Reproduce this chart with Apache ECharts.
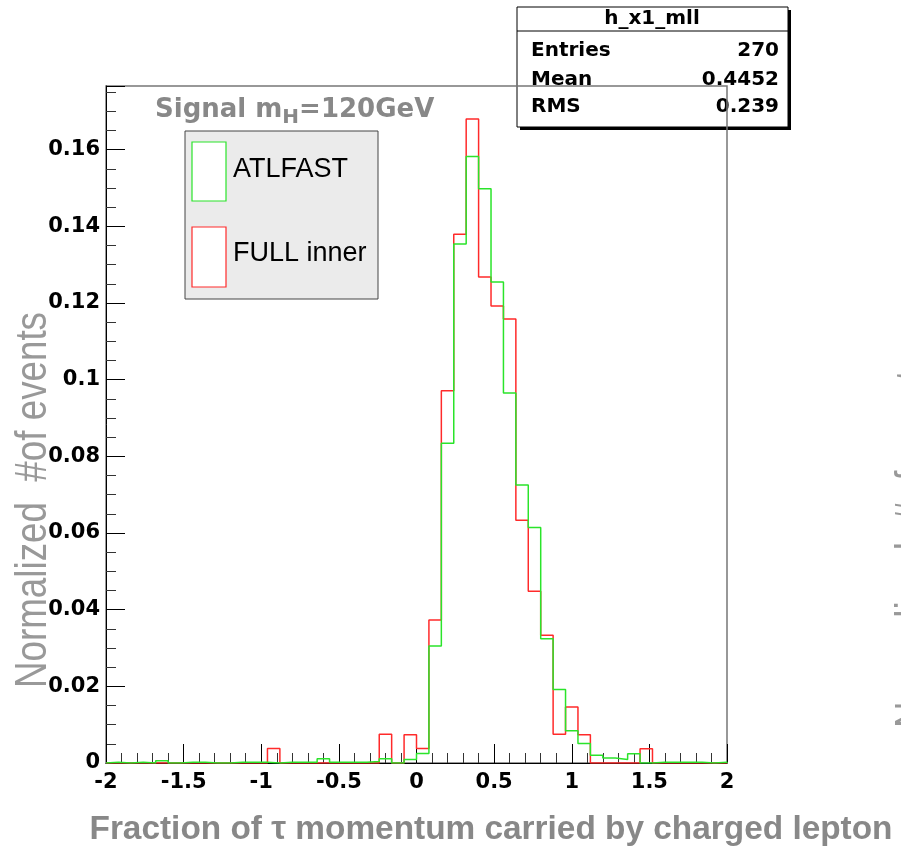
<!DOCTYPE html>
<html><head><meta charset="utf-8">
<script src="https://cdn.jsdelivr.net/npm/echarts@6/dist/echarts.min.js"></script>
<style>html,body{margin:0;padding:0;background:#fff}#c{width:901px;height:848px}</style>
</head><body><div id="c"></div>
<script>
// ---- data (normalized histograms, 50 bins of 0.08 from -2 to 2) ----
const binStart = -2;
const binWidth = 0.08;
const fullInner = [
  0, 0, 0, 0, 0, 0, 0, 0, 0, 0,
  0, 0, 0, 0.0038, 0, 0, 0, 0, 0, 0,
  0, 0, 0.0075, 0, 0.0074, 0.0038, 0.0373, 0.0971, 0.1379, 0.1680,
  0.1268, 0.1192, 0.1158, 0.0633, 0.0448, 0.0333, 0.0075, 0.0146, 0.0074, 0,
  0, 0, 0, 0.0037, 0, 0, 0, 0, 0, 0
];
const atlfast = [
  0.0002, 0, 0.0002, 0, 0.0006, 0, 0.0002, 0.0002, 0, 0,
  0.0002, 0.0002, 0.0002, 0, 0.0002, 0.0002, 0.0002, 0.0011, 0.0002, 0.0002,
  0.0002, 0.0004, 0.0011, 0, 0.0009, 0.0025, 0.0305, 0.0834, 0.1354, 0.1582,
  0.1498, 0.1255, 0.0965, 0.0725, 0.0614, 0.0324, 0.0192, 0.0084, 0.0051, 0.0020,
  0.0013, 0.0009, 0.0024, 0, 0.0002, 0.0002, 0.0002, 0.0002, 0, 0.0002
];
const statsTitle = 'h_x1_mll';
const statsRows = [['Entries', '270'], ['Mean', '0.4452'], ['RMS', '0.239']];
const legendNames = ['ATLFAST', 'FULL inner'];

function stepData(vals) {
  const d = [[binStart, 0]];
  vals.forEach((v, i) => d.push([binStart + i * binWidth, v]));
  const xEnd = binStart + vals.length * binWidth;
  d.push([xEnd, vals[vals.length - 1]]);
  d.push([xEnd, 0]);
  return d;
}

const BOLD = 'DejaVu Sans';
const GREEN = '#2ae42a', RED = '#ff2a2a';

const ctx = document.createElement('canvas').getContext('2d');
function tw(text, size, weight, family) {
  ctx.font = (weight || 'normal') + ' ' + size + 'px "' + family + '"';
  return ctx.measureText(text).width;
}

const sigX = 155, sigY = 110, sigSize = 26, subSize = 20;
const w1 = tw('Signal m', sigSize, 'bold', BOLD);
const w2 = tw('H', subSize, 'bold', BOLD);

const yTitle = 'Normalized  #of events';
const yTitleSize = 44;
const yTitleScale = 376 / tw(yTitle, yTitleSize, 'normal', 'Liberation Sans');

const xTitle = 'Fraction of \u03c4 momentum carried by charged lepton';
const xTitleSize = 33;
const xTitleScale = 803 / tw(xTitle, xTitleSize, 'bold', 'Liberation Sans');

const chart = echarts.init(document.getElementById('c'), null, {renderer: 'canvas'});

const graphics = [
  // stats box
  {type: 'rect', z: -10, shape: {x: 520, y: 10, width: 271, height: 120}, style: {fill: '#000'}},
  {type: 'rect', z: -9, shape: {x: 517, y: 7, width: 271, height: 120}, style: {fill: '#fff', stroke: '#000', lineWidth: 1}},
  {type: 'line', z: -8, shape: {x1: 517, y1: 31, x2: 788, y2: 31}, style: {stroke: '#000', lineWidth: 1}},
  {type: 'text', z: -8, x: 652, y: 19, style: {text: statsTitle, font: 'bold 20px "' + BOLD + '"', fill: '#000', textAlign: 'center', textVerticalAlign: 'middle'}},
];
const rowY = [51, 80, 107];
statsRows.forEach((r, i) => {
  graphics.push({type: 'text', z: -8, x: 531, y: rowY[i], style: {text: r[0], font: 'bold 20px "' + BOLD + '"', fill: '#000', textAlign: 'left', textVerticalAlign: 'middle'}});
  graphics.push({type: 'text', z: -8, x: 779, y: rowY[i], style: {text: r[1], font: 'bold 20px "' + BOLD + '"', fill: '#000', textAlign: 'right', textVerticalAlign: 'middle'}});
});
// signal label
graphics.push({type: 'text', z: 10, x: sigX, y: sigY, style: {text: 'Signal m', font: 'bold ' + sigSize + 'px "' + BOLD + '"', fill: '#888', textAlign: 'left', textVerticalAlign: 'middle'}});
graphics.push({type: 'text', z: 10, x: sigX + w1, y: sigY + 8, style: {text: 'H', font: 'bold ' + subSize + 'px "' + BOLD + '"', fill: '#888', textAlign: 'left', textVerticalAlign: 'middle'}});
graphics.push({type: 'text', z: 10, x: sigX + w1 + w2, y: sigY, style: {text: '=120GeV', font: 'bold ' + sigSize + 'px "' + BOLD + '"', fill: '#888', textAlign: 'left', textVerticalAlign: 'middle'}});
// legend box
graphics.push({type: 'rect', z: 10, shape: {x: 185, y: 131, width: 193, height: 168}, style: {fill: '#ebebeb', stroke: '#444', lineWidth: 1}});
graphics.push({type: 'rect', z: 11, shape: {x: 192, y: 142, width: 34, height: 59}, style: {fill: '#fff', stroke: GREEN, lineWidth: 1.2}});
graphics.push({type: 'rect', z: 11, shape: {x: 192, y: 227, width: 34, height: 60}, style: {fill: '#fff', stroke: RED, lineWidth: 1.2}});
graphics.push({type: 'text', z: 11, x: 233, y: 170, style: {text: legendNames[0], font: '27px "Liberation Sans"', fill: '#000', textAlign: 'left', textVerticalAlign: 'middle'}});
graphics.push({type: 'text', z: 11, x: 233, y: 254, style: {text: legendNames[1], font: '27px "Liberation Sans"', fill: '#000', textAlign: 'left', textVerticalAlign: 'middle'}});
// axis titles
graphics.push({type: 'text', z: 10, x: 491, y: 830, scaleX: xTitleScale, style: {text: xTitle, font: 'bold ' + xTitleSize + 'px "Liberation Sans"', fill: '#888', textAlign: 'center', textVerticalAlign: 'middle'}});
graphics.push({type: 'text', z: 10, x: 12, y: 500, rotation: Math.PI / 2, scaleX: yTitleScale, style: {text: yTitle, font: yTitleSize + 'px "Liberation Sans"', fill: '#999', textAlign: 'center', textVerticalAlign: 'top'}});
// neighbouring pad's clipped y-title at the right edge
graphics.push({type: 'text', z: 10, x: 892, y: 540, rotation: Math.PI / 2, scaleX: yTitleScale, style: {text: yTitle, font: yTitleSize + 'px "Liberation Sans"', fill: '#999', textAlign: 'center', textVerticalAlign: 'top'}});

chart.setOption({
  animation: false,
  backgroundColor: '#fff',
  grid: {left: 106, right: 174, top: 86, bottom: 85, show: true, borderColor: '#777', borderWidth: 1.5, backgroundColor: 'transparent'},
  xAxis: {
    type: 'value', min: -2, max: 2, interval: 0.5,
    axisLine: {show: true, onZero: false, lineStyle: {color: '#000', width: 1}},
    axisTick: {show: true, inside: true, length: 19, lineStyle: {color: '#000', width: 1}},
    minorTick: {show: true, splitNumber: 5, length: 10, lineStyle: {color: '#333', width: 1}},
    splitLine: {show: false},
    axisLabel: {show: true, margin: 9, color: '#000', fontFamily: BOLD, fontWeight: 'bold', fontSize: 21}
  },
  yAxis: {
    type: 'value', min: 0, max: 0.1766, interval: 0.02,
    axisLine: {show: true, onZero: false, lineStyle: {color: '#000', width: 1}},
    axisTick: {show: true, inside: true, length: 19, lineStyle: {color: '#000', width: 1}},
    minorTick: {show: true, splitNumber: 4, length: 10, lineStyle: {color: '#333', width: 1}},
    splitLine: {show: false},
    axisLabel: {show: true, margin: 6, color: '#000', fontFamily: BOLD, fontWeight: 'bold', fontSize: 21, showMaxLabel: false}
  },
  graphic: graphics,
  series: [
    {name: legendNames[1], type: 'line', step: 'end', data: stepData(fullInner), showSymbol: false, symbol: 'none', lineStyle: {color: RED, width: 1.5}, z: 3, clip: true},
    {name: legendNames[0], type: 'line', step: 'end', data: stepData(atlfast), showSymbol: false, symbol: 'none', lineStyle: {color: GREEN, width: 1.5}, z: 4, clip: true}
  ]
});
</script></body></html>
